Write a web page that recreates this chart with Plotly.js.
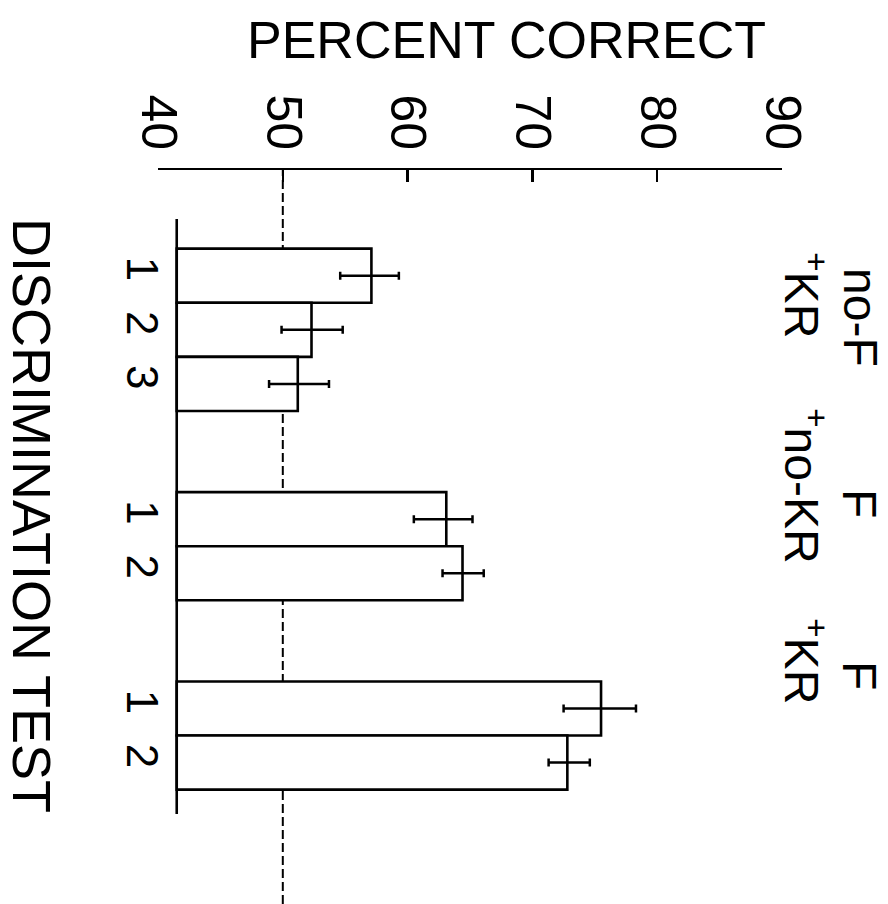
<!DOCTYPE html>
<html>
<head>
<meta charset="utf-8">
<script src="https://cdn.plot.ly/plotly-3.0.1.min.js"></script>
<style>html,body{margin:0;padding:0;background:#fff;}#chart{width:888px;height:904px;}</style>
</head>
<body>
<div id="chart"></div>
<script>
// ---- data ----
const testLabels = ['1', '2', '3', '1', '2', '1', '2'];
const groupOf = [0, 0, 0, 1, 1, 2, 2];
const groupLine1 = ['no-F', 'F', 'F'];
const groupLine2 = ['<sup>+</sup>KR', '<sup>+</sup>no-KR', '<sup>+</sup>KR'];
const percentCorrect = [57.1, 52.3, 51.2, 63.1, 64.4, 75.5, 72.8];
const errPlus = [2.2, 2.5, 2.5, 2.1, 1.7, 2.8, 1.8];
const errMinus = [2.5, 2.4, 2.3, 2.6, 1.6, 3.0, 1.5];
const xTicks = [40, 50, 60, 70, 80, 90];
const chanceLevel = 50;

// ---- layout constants ----
const W = 888, H = 904;
const L = 158, R = 782, T = 170, B = 904;
const BASE = 41.5;          // where the bars' left edge sits on the axis
const GROUP_GAP = 1.5;      // empty bar-widths between groups
const FONT = 'Liberation Sans, Arial, sans-serif';

// bar slots along the category axis
const pos = [];
let p = 0;
for (let i = 0; i < groupOf.length; i++) {
  if (i > 0) p += (groupOf[i] !== groupOf[i - 1]) ? 1 + GROUP_GAP : 1;
  pos.push(p);
}
const unitPx = 54.1;
const yTop = pos[0] - (275.7 - T) / unitPx;
const yBot = yTop + (B - T) / unitPx;

const px = X => (X - L) / (R - L);
const py = Y => 1 - (Y - T) / (B - T);

const trace = {
  type: 'bar',
  orientation: 'h',
  y: pos,
  x: percentCorrect.map(v => v - BASE),
  base: BASE,
  width: 1,
  marker: {color: '#ffffff', line: {color: '#000', width: 2.6}},
  error_x: {
    type: 'data', symmetric: false,
    array: errPlus, arrayminus: errMinus,
    color: '#000', thickness: 2.5, width: 4
  },
  hoverinfo: 'none',
  showlegend: false
};

// label positions (px) for group labels: [x, y] of line1 and line2
const groupLabelPos = [
  [[861, 317], [805, 295]],
  [[860, 503], [805, 486]],
  [[860, 675], [805, 661]]
];

const annotations = [
  {text: 'PERCENT CORRECT', xref: 'paper', yref: 'paper', x: px(506), y: py(40),
   xanchor: 'center', yanchor: 'middle', showarrow: false,
   font: {family: FONT, size: 52, color: '#000'}},
  {text: 'DISCRIMINATION TEST', xref: 'paper', yref: 'paper', x: px(32), y: py(515),
   xanchor: 'center', yanchor: 'middle', showarrow: false, textangle: 90,
   font: {family: FONT, size: 54, color: '#000'}}
];
groupLine1.forEach((t, g) => {
  annotations.push({text: t, xref: 'paper', yref: 'paper',
    x: px(groupLabelPos[g][0][0]), y: py(groupLabelPos[g][0][1]),
    xanchor: 'center', yanchor: 'middle', showarrow: false, textangle: 90,
    font: {family: FONT, size: 48, color: '#000'}});
  annotations.push({text: groupLine2[g], xref: 'paper', yref: 'paper',
    x: px(groupLabelPos[g][1][0]), y: py(groupLabelPos[g][1][1]),
    xanchor: 'center', yanchor: 'middle', showarrow: false, textangle: 90,
    font: {family: FONT, size: 48, color: '#000'}});
});

const shapes = [
  {type: 'line', xref: 'x', yref: 'paper', x0: chanceLevel, x1: chanceLevel, y0: 0, y1: 1,
   layer: 'below', line: {color: '#000', width: 2, dash: '9px,4px'}},
  {type: 'line', xref: 'x', yref: 'y', x0: BASE, x1: BASE,
   y0: pos[0] - 1.05, y1: pos[pos.length - 1] + 0.95,
   line: {color: '#000', width: 2.6}}
];

const layout = {
  width: W, height: H,
  margin: {l: L, r: W - R, t: T, b: H - B, pad: 0},
  paper_bgcolor: '#fff', plot_bgcolor: 'rgba(0,0,0,0)',
  font: {family: FONT, color: '#000'},
  xaxis: {
    side: 'top', range: [40, 90], tickvals: xTicks, ticktext: xTicks.map(String),
    showline: true, linecolor: '#000', linewidth: 2.5,
    ticks: 'inside', ticklen: 12, tickwidth: 2.5, tickcolor: '#000',
    tickangle: 90, tickfont: {family: FONT, size: 50, color: '#000'},
    showgrid: false, zeroline: false, automargin: false, fixedrange: true
  },
  yaxis: {
    range: [yBot, yTop], tickvals: pos, ticktext: testLabels,
    showline: false, ticks: '', tickangle: 90, ticklabelstandoff: -14,
    tickfont: {family: FONT, size: 44, color: '#000'},
    showgrid: false, zeroline: false, automargin: false, fixedrange: true
  },
  shapes: shapes,
  annotations: annotations
};

Plotly.newPlot('chart', [trace], layout, {displayModeBar: false, staticPlot: true});
</script>
</body>
</html>
